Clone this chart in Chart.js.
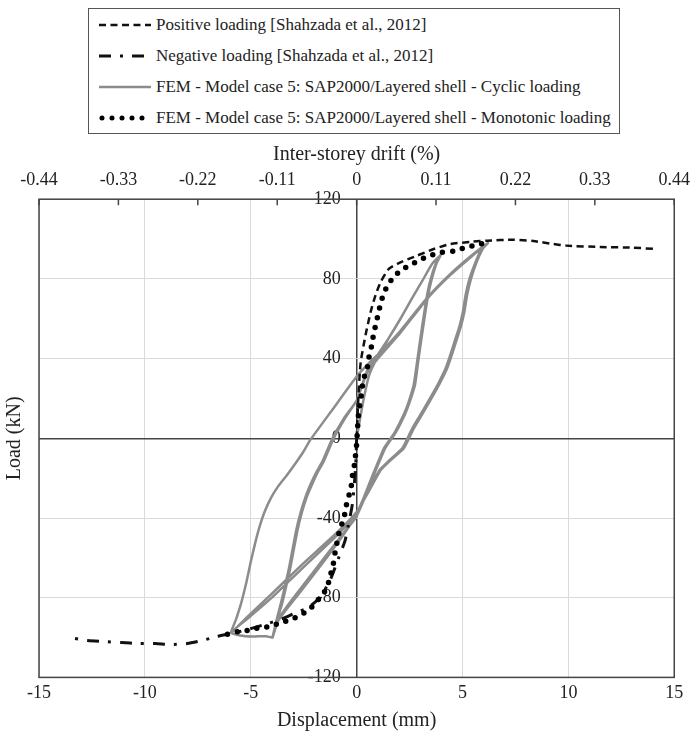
<!DOCTYPE html>
<html>
<head>
<meta charset="utf-8">
<script src="https://cdn.jsdelivr.net/npm/chart.js@4.4.0/dist/chart.umd.min.js"></script>
<style>
  html, body { margin: 0; padding: 0; background: #fff; }
  #wrap { position: relative; width: 691px; height: 738px; }
  #legend {
    position: absolute; left: 88px; top: 8px;
    border: 1.5px solid #555; background: #fff;
    padding: 0 8px 0 10px;
    font-family: 'Liberation Serif', 'DejaVu Serif', serif; font-size: 17px; color: #222;
  }
  #legend .row { display: flex; align-items: center; height: 31px; white-space: nowrap; }
  #legend svg { margin-right: 5px; flex: none; }
</style>
</head>
<body>
<div id="wrap">
  <canvas id="chart" width="691" height="738"></canvas>
  <div id="legend"></div>
</div>
<script>
// axis ticks
const dispTicks = [-15, -10, -5, 0, 5, 10, 15];
const loadTicks = [-120, -80, -40, 0, 40, 80, 120];
const driftTicks = [-0.44, -0.33, -0.22, -0.11, 0, 0.11, 0.22, 0.33, 0.44];

// test, positive direction (mm, kN)
const posDisp = [0, 0.08, 0.19, 0.42, 0.66, 0.89, 1.13, 1.52, 2.07, 2.86, 3.64, 4.43, 5.5, 6.16, 7.4, 8.35, 9.3, 9.9, 11.5, 13.05, 14.1];
const posLoad = [0, 20, 38, 51.7, 63.3, 71.7, 78.3, 85, 88.3, 91.7, 95, 97.5, 98.7, 99.2, 99.7, 99, 97.5, 96.7, 96, 95.7, 95];

// test, negative direction
const negDisp = [0, -0.05, -0.2, -0.4, -0.55, -0.85, -1.2, -1.5, -1.84, -2.3, -2.87, -3.5, -4.2, -5, -5.7, -6.6, -7.3, -8, -8.8, -9.5, -10.3, -11.1, -11.9, -12.7, -13.6];
const negLoad = [0, -15, -33, -44, -51.5, -60, -70, -76, -81, -85, -87.5, -90.5, -93, -95.5, -97.5, -99.5, -101.5, -103, -103.5, -103, -103, -102.5, -102, -101.5, -100];

// FEM cyclic path, one row per half cycle
const cyclicDisp = [
  0, 0.3, 0.6, 1.0, 1.5, 2.07, 2.6, 3.1, 3.56, 3.97,
  3.75, 3.5, 3.33, 3.15, 3.01, 2.85, 2.7, 2.45, 2.23, 1.8, 1.29, 0.7, 0.25, -0.1, -0.8, -1.85, -2.8, -3.4, -3.73, -3.97,
  -3.8, -3.58, -3.38, -3.19, -2.87, -2.64, -2.4, -2.17, -1.9, -1.62, -1.14, -0.6, 0, 0.5, 1.0, 1.5, 2.07, 2.6, 3.1, 3.56, 3.97,
  3.78, 3.55, 3.38, 3.2, 3.06, 2.9, 2.76, 2.5, 2.28, 1.85, 1.35, 0.75, 0.3, -0.05, -0.8, -1.85, -2.8, -3.4, -3.73, -3.97,
  -3.75, -3.52, -3.32, -3.13, -2.81, -2.58, -2.34, -2.1, -1.84, -1.56, -1.08, -0.55, 0, 0.5, 1.0, 2.07, 3.33, 4.43, 5.4, 6.2,
  5.95, 5.65, 5.4, 5.22, 5.08, 4.92, 4.74, 4.5, 4.27, 3.95, 3.64, 3.15, 2.7, 2.23, 1.6, 1.13, 0.5, 0, -1, -2.64, -4, -5.2, -5.93,
  -5.7, -5.46, -5.2, -5, -4.8, -4.6, -4.35, -4.05, -3.7, -3.26, -2.85, -2.5, -2.2, -1.1, 0, 0.6, 1.2, 2.07, 3.33, 4.43, 5.4, 6.2,
  5.9, 5.6, 5.33, 5.15, 5.01, 4.85, 4.67, 4.43, 4.2, 3.88, 3.57, 3.08, 2.63, 2.16, 1.55, 1.08, 0.45, -0.05, -1, -2.64, -4, -5.2, -5.93,
  -5.5, -4.9, -4.3, -3.97
];
const cyclicLoad = [
  0, 18, 32, 41, 50, 60, 70, 79, 87.5, 92,
  88, 80, 72, 60, 50, 38, 27, 18, 12, 3, -5, -20, -32, -40, -51, -66, -79, -87, -92, -100,
  -92, -83, -74, -65, -47, -37, -29, -23, -17, -11.7, 0, 10, 19, 34, 42, 50, 60, 70, 79, 87.5, 92,
  88, 80, 72, 60, 50, 38, 27, 18, 12, 3, -5, -20, -32, -40, -50, -64.5, -77.5, -86, -91.5, -100,
  -91, -83, -74, -65, -47, -37, -29, -23, -17, -11.7, 0, 10, 19, 33, 40, 53, 70, 82, 91, 98,
  95, 88, 80, 72, 63, 56, 50, 42, 35, 28, 22, 13, 5, -5, -11, -16, -28, -37, -48, -64, -78, -90, -97.5,
  -91, -83, -72, -62, -53, -45, -37, -30, -24, -18, -12, -6.5, -1, 15, 31, 38, 44, 54, 70.5, 82.5, 91.5, 98,
  95, 88, 80, 72, 63, 56, 50, 42, 35, 28, 22, 13, 5, -5, -11, -16, -28, -38.5, -49.5, -66, -80, -91, -97.5,
  -99, -99.5, -99.3, -100
];

// FEM monotonic push, both directions
const monoDisp = [-6.1, -5.6, -5.07, -4.6, -4.08, -3.58, -3.1, -2.71, -2.24, -1.85, -1.54, -1.33, -1.22, -1.1, -1.02, -0.91, -0.8, -0.63, -0.52, -0.44, -0.28, -0.2, -0.1, 0, 0.03, 0.1, 0.19, 0.31, 0.5, 0.57, 0.7, 0.78, 0.89, 1.0, 1.13, 1.26, 1.46, 1.79, 2.15, 2.62, 3.09, 3.56, 4.0, 4.58, 5.05, 5.5, 6.03];
const monoLoad = [-98.3, -97, -96.3, -95, -94.5, -92.5, -91, -89, -86, -81.5, -77.5, -72.5, -68, -63, -57.5, -51.5, -46, -41, -36, -31, -26, -19, -13, -3, 2.5, 13.5, 19, 29, 35, 40, 46, 51, 56.5, 61.5, 67.5, 72, 76.7, 81.5, 84.7, 87.5, 90, 92, 93.3, 94, 95.5, 96.7, 98];

function pairs(xs, ys) {
    return xs.map((x, i) => ({ x: x, y: ys[i] }));
}

const serif = "'Liberation Serif', 'DejaVu Serif', serif";
const ink = '#222';

function gridColor(c) { return c.tick && c.tick.value === 0 ? '#444' : '#dadada'; }
function gridWidth(c) { return c.tick && c.tick.value === 0 ? 1.5 : 1; }

// load labels sit just left of the zero-displacement line
const loadLabelPlugin = {
    id: 'loadLabels',
    beforeDatasetsDraw(chart) {
        const ctx = chart.ctx;
        const xs = chart.scales.x;
        const ys = chart.scales.y;
        const right = xs.getPixelForValue(0) - 16;
        ctx.save();
        ctx.font = '18px ' + serif;
        ctx.fillStyle = ink;
        ctx.textAlign = 'left';
        ctx.textBaseline = 'middle';
        ys.ticks.forEach(t => {
            const text = String(t.value);
            const w = ctx.measureText(text).width;
            ctx.fillText(text, right - w, ys.getPixelForValue(t.value));
        });
        ctx.restore();
    }
};

// plot frame and the short inner ticks of the drift axis
const framePlugin = {
    id: 'frame',
    afterDraw(chart) {
        const { ctx, chartArea: a } = chart;
        const top = chart.scales.x2;
        ctx.save();
        ctx.strokeStyle = '#444';
        ctx.lineWidth = 1.5;
        ctx.strokeRect(a.left, a.top, a.right - a.left, a.bottom - a.top);
        top.ticks.forEach(t => {
            const px = top.getPixelForValue(t.value);
            ctx.beginPath();
            ctx.moveTo(px, a.top);
            ctx.lineTo(px, a.top + 6);
            ctx.stroke();
        });
        ctx.restore();
    }
};

const ctx = document.getElementById('chart').getContext('2d');
const chart = new Chart(ctx, {
    type: 'scatter',
    data: {
        datasets: [{
            label: 'Positive loading [Shahzada et al., 2012]',
            data: pairs(posDisp, posLoad),
            borderColor: '#111', borderWidth: 2.5, borderDash: [7, 4.5],
            order: 1
        }, {
            label: 'Negative loading [Shahzada et al., 2012]',
            data: pairs(negDisp, negLoad),
            borderColor: '#111', borderWidth: 3, borderDash: [12, 9, 3, 9],
            order: 1
        }, {
            label: 'FEM - Model case 5: SAP2000/Layered shell - Cyclic loading',
            data: pairs(cyclicDisp, cyclicLoad),
            borderColor: '#8c8c8c', borderWidth: 2.5, tension: 0.15,
            order: 3
        }, {
            label: 'FEM - Model case 5: SAP2000/Layered shell - Monotonic loading',
            data: pairs(monoDisp, monoLoad),
            borderColor: '#000', borderWidth: 5.5, borderDash: [0, 10], borderCapStyle: 'round',
            order: 0
        }].map(d => Object.assign({ showLine: true, pointRadius: 0, fill: false, tension: 0.2 }, d))
    },
    options: {
        responsive: false,
        animation: false,
        layout: { autoPadding: false, padding: { left: 0, right: 8, top: 142.6, bottom: 5 } },
        plugins: { legend: { display: false }, tooltip: { enabled: false } },
        scales: {
            x: {
                type: 'linear', position: 'bottom', min: -15, max: 15,
                afterBuildTicks: s => { s.ticks = dispTicks.map(v => ({ value: v })); },
                ticks: { font: { family: serif, size: 18 }, color: ink, padding: 5 },
                grid: { color: gridColor, lineWidth: gridWidth, drawTicks: false },
                border: { display: false },
                title: { display: true, text: 'Displacement (mm)', font: { family: serif, size: 20 }, color: ink, padding: { top: 0, bottom: 0 } }
            },
            x2: {
                type: 'linear', axis: 'x', position: 'top', min: -0.44, max: 0.44,
                afterBuildTicks: s => { s.ticks = driftTicks.map(v => ({ value: v })); },
                ticks: { font: { family: serif, size: 18 }, color: ink, padding: 1, callback: v => String(v) },
                grid: { drawOnChartArea: false, drawTicks: true, tickLength: 7, tickColor: 'transparent' },
                border: { display: false },
                title: { display: true, text: 'Inter-storey drift (%)', font: { family: serif, size: 20 }, color: ink, padding: { top: 0, bottom: 2 } }
            },
            y: {
                type: 'linear', position: 'left', min: -120, max: 120,
                afterBuildTicks: s => { s.ticks = loadTicks.map(v => ({ value: v })); },
                ticks: { display: false },
                grid: { color: gridColor, lineWidth: gridWidth, drawTicks: false },
                border: { display: false },
                title: { display: true, text: 'Load (kN)', font: { family: serif, size: 20 }, color: ink, padding: { top: 3, bottom: 12 } }
            }
        }
    },
    plugins: [loadLabelPlugin, framePlugin]
});

// legend box with line samples taken from the dataset styles
const legend = document.getElementById('legend');
chart.data.datasets.forEach(ds => {
    const row = document.createElement('div');
    row.className = 'row';
    const svgNS = 'http://www.w3.org/2000/svg';
    const svg = document.createElementNS(svgNS, 'svg');
    svg.setAttribute('width', '52');
    svg.setAttribute('height', '10');
    const line = document.createElementNS(svgNS, 'line');
    line.setAttribute('x1', ds.borderCapStyle === 'round' ? '3' : '0');
    line.setAttribute('x2', '52');
    line.setAttribute('y1', '5');
    line.setAttribute('y2', '5');
    line.setAttribute('stroke', ds.borderColor);
    line.setAttribute('stroke-width', String(Math.min(ds.borderWidth, 5)));
    if (ds.borderDash) line.setAttribute('stroke-dasharray', ds.borderDash.join(' '));
    if (ds.borderCapStyle) line.setAttribute('stroke-linecap', ds.borderCapStyle);
    svg.appendChild(line);
    row.appendChild(svg);
    row.appendChild(document.createTextNode(ds.label));
    legend.appendChild(row);
});
</script>
</body>
</html>
